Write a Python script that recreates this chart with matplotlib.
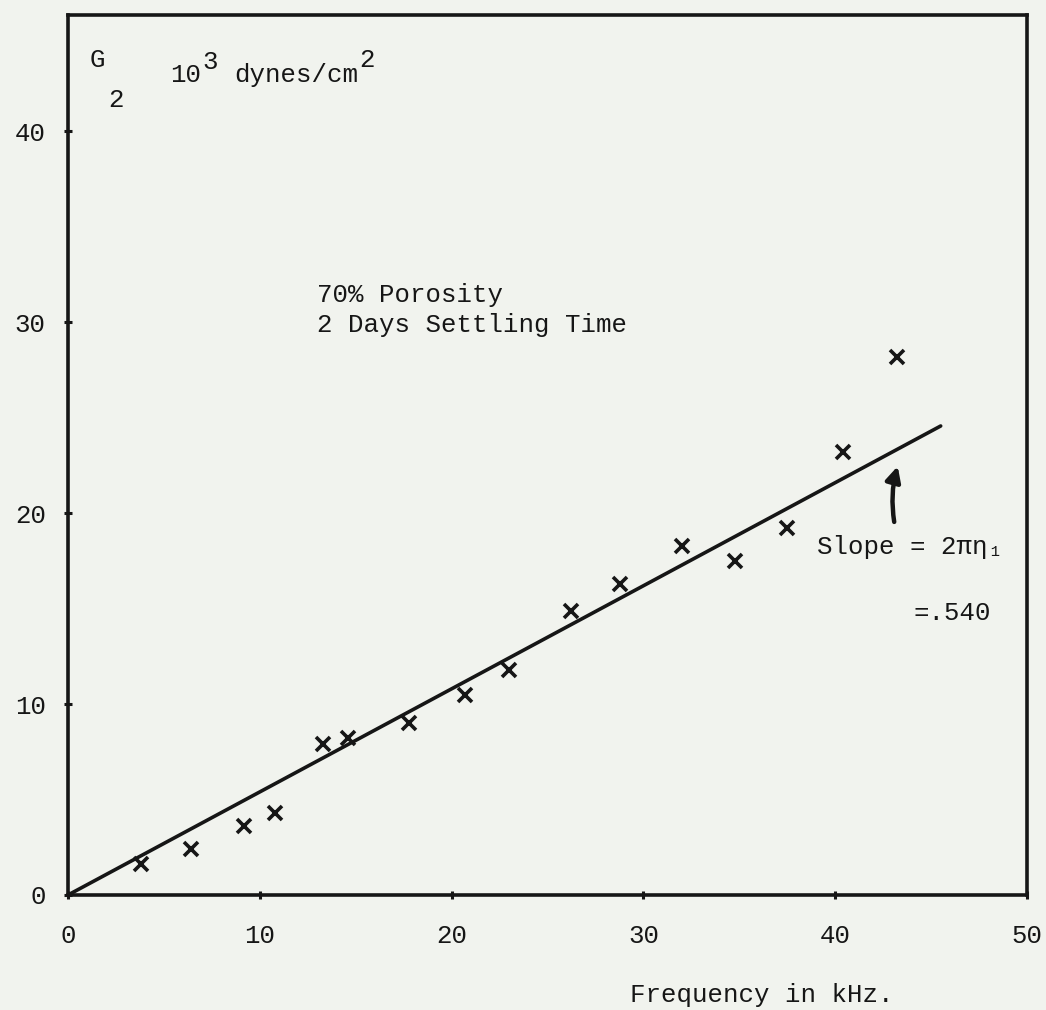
import matplotlib.pyplot as plt

# data
freq = [3.8, 6.4, 9.2, 10.8, 13.3, 14.6, 17.8, 20.7, 23.0, 26.2, 28.8,
        32.0, 34.8, 37.5, 40.4, 43.2]
g2 = [1.6, 2.4, 3.6, 4.3, 7.9, 8.2, 9.0, 10.5, 11.8, 14.9, 16.3,
      18.3, 17.5, 19.2, 23.2, 28.2]
slope = 0.54
line_x = [0, 45.5]
line_y = [slope * v for v in line_x]

x_ticks = [0, 10, 20, 30, 40, 50]
y_ticks = [0, 10, 20, 30, 40]

tinta = '#161616'
papel = '#f1f3ee'
mono = ['Liberation Mono', 'DejaVu Sans Mono']
tam = 18.5

plt.rcParams['font.family'] = mono

fig = plt.figure(figsize=(10.46, 10.10), dpi=100, facecolor=papel)
ax = fig.add_axes([68 / 1046, 1 - 895 / 1010, (1027 - 68) / 1046, (895 - 15) / 1010])
ax.set_facecolor(papel)

ax.plot(line_x, line_y, color=tinta, lw=2.6, solid_capstyle='round')
ax.plot(freq, g2, ls='none', marker='x', ms=9.5, mew=2.6, color=tinta)

ax.set_xlim(0, 50)
ax.set_ylim(0, 46.1)
ax.set_xticks(x_ticks)
ax.set_yticks(y_ticks)
ax.tick_params(direction='inout', length=6, width=2.2, color=tinta,
               labelsize=tam, labelcolor=tinta)
ax.tick_params(axis='x', pad=18)
ax.tick_params(axis='y', pad=13)
for s in ax.spines.values():
    s.set_linewidth(2.6)
    s.set_color(tinta)

# rotulos do eixo y no canto, datilografados
ax.text(1.15, 43.76, 'G', fontsize=tam, color=tinta, ha='left', va='center')
ax.text(2.1, 41.67, '2', fontsize=tam, color=tinta, ha='left', va='center')
ax.text(5.32, 42.98, '10', fontsize=tam, color=tinta, ha='left', va='center')
ax.text(6.98, 43.62, '3', fontsize=tam, color=tinta, ha='left', va='center')
ax.text(8.65, 42.98, 'dynes/cm', fontsize=tam, color=tinta, ha='left', va='center')
ax.text(15.2, 43.72, '2', fontsize=tam, color=tinta, ha='left', va='center')

ax.text(12.98, 31.45, '70% Porosity', fontsize=tam, color=tinta, ha='left', va='center')
ax.text(12.98, 29.87, '2 Days Settling Time', fontsize=tam, color=tinta, ha='left', va='center')

ax.annotate('', xy=(43.3, 22.6), xytext=(43.1, 19.4),
            arrowprops=dict(arrowstyle='-|>,head_length=0.9,head_width=0.45',
                            connectionstyle='arc3,rad=-0.12',
                            color=tinta, lw=3.2))
ax.text(39.05, 18.24, 'Slope = 2πη₁', fontsize=tam, color=tinta, ha='left', va='center')
ax.text(44.06, 14.78, '=.540', fontsize=tam, color=tinta, ha='left', va='center')

fig.text(630 / 1046, 1 - 995 / 1010, 'Frequency in kHz.', fontsize=tam,
         color=tinta, ha='left', va='center')

fig.savefig('out.png', dpi=100, facecolor=papel)
